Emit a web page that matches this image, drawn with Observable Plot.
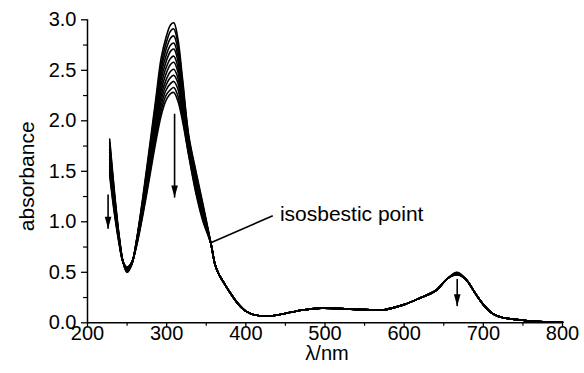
<!DOCTYPE html>
<html><head><meta charset="utf-8">
<script src="https://cdn.jsdelivr.net/npm/d3@7"></script>
<script src="https://cdn.jsdelivr.net/npm/@observablehq/plot@0.6"></script>
<style>body{margin:0;background:#fff}svg{display:block}</style>
</head><body><div id="chart"></div>
<script>
// UV region: each spectrum differs (absorbance decreases with time)
const uvWavelengths = [228, 234, 240, 245, 250, 256, 262, 270, 278, 286, 293, 299, 305, 309, 314, 320, 328, 337, 346, 356];
const spectrum1  = [1.82, 1.30, 0.86, 0.60, 0.50, 0.58, 0.82, 1.25, 1.72, 2.20, 2.62, 2.82, 2.95, 2.97, 2.82, 2.42, 1.85, 1.50, 1.17, 0.78];
const spectrum2  = [1.79, 1.28, 0.85, 0.60, 0.50, 0.58, 0.82, 1.23, 1.69, 2.16, 2.56, 2.76, 2.89, 2.91, 2.77, 2.38, 1.83, 1.48, 1.15, 0.78];
const spectrum3  = [1.76, 1.26, 0.85, 0.60, 0.51, 0.58, 0.81, 1.22, 1.67, 2.12, 2.51, 2.70, 2.82, 2.84, 2.71, 2.34, 1.81, 1.46, 1.14, 0.78];
const spectrum4  = [1.72, 1.24, 0.84, 0.60, 0.51, 0.59, 0.81, 1.20, 1.64, 2.09, 2.46, 2.64, 2.75, 2.77, 2.65, 2.30, 1.79, 1.45, 1.12, 0.78];
const spectrum5  = [1.69, 1.22, 0.83, 0.60, 0.52, 0.59, 0.80, 1.18, 1.61, 2.05, 2.41, 2.58, 2.69, 2.71, 2.60, 2.27, 1.77, 1.43, 1.11, 0.78];
const spectrum6  = [1.65, 1.20, 0.82, 0.60, 0.52, 0.59, 0.80, 1.17, 1.58, 2.01, 2.35, 2.52, 2.62, 2.64, 2.54, 2.23, 1.75, 1.41, 1.09, 0.78];
const spectrum7  = [1.62, 1.18, 0.82, 0.60, 0.53, 0.59, 0.79, 1.15, 1.56, 1.97, 2.30, 2.46, 2.56, 2.58, 2.49, 2.19, 1.73, 1.39, 1.08, 0.78];
const spectrum8  = [1.58, 1.16, 0.81, 0.60, 0.53, 0.59, 0.79, 1.14, 1.53, 1.93, 2.25, 2.40, 2.49, 2.51, 2.43, 2.15, 1.71, 1.37, 1.06, 0.78];
const spectrum9  = [1.55, 1.14, 0.80, 0.60, 0.54, 0.60, 0.78, 1.12, 1.50, 1.89, 2.20, 2.35, 2.43, 2.45, 2.38, 2.11, 1.69, 1.35, 1.05, 0.78];
const spectrum10 = [1.52, 1.12, 0.80, 0.60, 0.54, 0.60, 0.78, 1.10, 1.47, 1.86, 2.15, 2.30, 2.37, 2.39, 2.32, 2.07, 1.68, 1.33, 1.03, 0.78];
const spectrum11 = [1.49, 1.10, 0.79, 0.60, 0.55, 0.60, 0.77, 1.09, 1.45, 1.82, 2.10, 2.25, 2.31, 2.33, 2.25, 2.03, 1.66, 1.30, 1.02, 0.78];
const spectrum12 = [1.46, 1.08, 0.78, 0.60, 0.55, 0.60, 0.76, 1.07, 1.42, 1.78, 2.05, 2.20, 2.27, 2.28, 2.20, 2.00, 1.65, 1.28, 1.00, 0.78];
const uvSpectra = [spectrum1, spectrum2, spectrum3, spectrum4, spectrum5, spectrum6, spectrum7, spectrum8, spectrum9, spectrum10, spectrum11, spectrum12];

// Visible region: common to all spectra, except the 667 nm band maximum
const visWavelengths = [361, 366, 372, 380, 390, 400, 410, 425, 445, 470, 495, 520, 550, 575, 600, 620, 640, 655, 667, 678, 690, 700, 712, 725, 745, 770, 800];
const visAbsorbance  = [0.58, 0.48, 0.40, 0.30, 0.19, 0.115, 0.08, 0.065, 0.085, 0.125, 0.145, 0.14, 0.13, 0.13, 0.18, 0.245, 0.32, 0.44, 0.50, 0.43, 0.29, 0.18, 0.09, 0.05, 0.03, 0.012, 0.005];
const bandMax667 = [0.500, 0.498, 0.495, 0.493, 0.490, 0.488, 0.485, 0.483, 0.480, 0.478, 0.475, 0.473];

// Annotations
const arrowX    = [226, 310, 667];
const arrowFrom = [1.27, 2.07, 0.435];
const arrowTo   = [0.93, 1.24, 0.165];
const isosbestic = {x: 355, y: 0.79};
const labelAt    = {x: 434, y: 1.06};
const labelText  = "isosbestic point";

const xMajor = [200, 300, 400, 500, 600, 700, 800];
const xMinor = [250, 350, 450, 550, 650, 750];
const yMajor = [0, 0.5, 1.0, 1.5, 2.0, 2.5, 3.0];
const yMinor = [0.25, 0.75, 1.25, 1.75, 2.25, 2.75];

const rows = [];
uvSpectra.forEach((s, i) => {
  uvWavelengths.forEach((w, j) => rows.push({w, a: s[j], k: i}));
  visWavelengths.forEach((w, j) => rows.push({w, a: w === 667 ? bandMax667[i] : visAbsorbance[j], k: i}));
});
const arrows = arrowX.map((x, i) => ({x, y1: arrowFrom[i], y2: arrowTo[i]}));

const arrowHead = {draw(ctx) { ctx.moveTo(0, 0); ctx.lineTo(-3.3, -12); ctx.lineTo(3.3, -12); ctx.closePath(); }};

const chart = Plot.plot({
  width: 584, height: 373,
  marginLeft: 87, marginRight: 22, marginTop: 19.3, marginBottom: 50.7,
  x: {domain: [200, 800]},
  y: {domain: [0, 3]},
  style: {fontFamily: "'Liberation Sans', Arial, sans-serif", fontSize: "20px", color: "black", background: "white"},
  marks: [
    Plot.axisY({ticks: yMajor, tickSize: 6, tickPadding: 5, tickFormat: d => d.toFixed(1), label: null, strokeWidth: 1.3}),
    Plot.axisY({ticks: yMinor, tickSize: 4, tickFormat: () => "", label: null, strokeWidth: 1.2}),
    Plot.axisX({ticks: xMajor, tickSize: 5, tickPadding: -2, tickFormat: d => String(d), label: null, strokeWidth: 1.3}),
    Plot.axisX({ticks: xMinor, tickSize: 3.5, tickFormat: () => "", label: null, strokeWidth: 1.2}),
    Plot.ruleX([200], {y1: 0, y2: 3, stroke: "black", strokeWidth: 1.5}),
    Plot.ruleY([0], {x1: 200, x2: 800, stroke: "black", strokeWidth: 1.5}),
    Plot.line(rows, {x: "w", y: "a", z: "k", stroke: "black", strokeWidth: 1.6, curve: "catmull-rom"}),
    Plot.link(arrows, {x1: "x", y1: "y1", x2: "x", y2: "y2", stroke: "black", strokeWidth: 1.6}),
    Plot.dot(arrows, {x: "x", y: "y2", symbol: arrowHead, fill: "black", stroke: null}),
    Plot.link([0], {x1: () => isosbestic.x, y1: () => isosbestic.y, x2: () => labelAt.x, y2: () => labelAt.y, stroke: "black", strokeWidth: 1.6}),
    Plot.text([labelText], {x: labelAt.x + 9, y: labelAt.y + 0.01, text: d => d, textAnchor: "start", fontSize: 21}),
    Plot.text(["absorbance"], {frameAnchor: "left", textAnchor: "middle", lineAnchor: "middle", rotate: -90, dx: -60, dy: 5, fontSize: 21}),
    Plot.text(["λ/nm"], {frameAnchor: "bottom", textAnchor: "middle", lineAnchor: "middle", dy: 31, dx: 2, fontSize: 20})
  ]
});
document.getElementById("chart").appendChild(chart);
</script>
</body></html>
